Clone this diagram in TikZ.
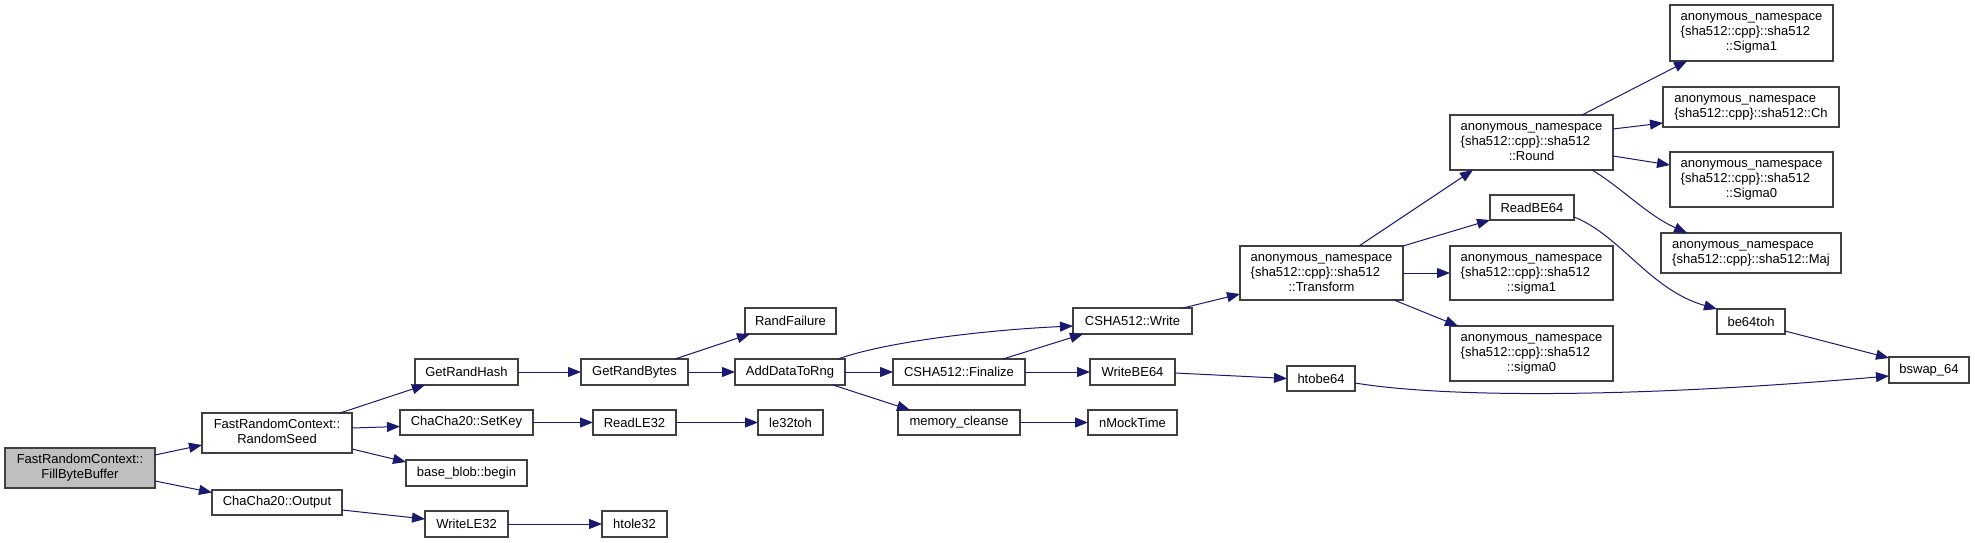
\documentclass[tikz,border=0pt]{standalone}
\usepackage{fontspec}
\setmainfont{Liberation Sans}
\usetikzlibrary{arrows.meta}
\definecolor{edgecol}{HTML}{191970}
\definecolor{boxcol}{HTML}{404040}
\definecolor{rootfill}{HTML}{BFBFBF}
\newcommand\twol[2]{\begin{tabular}{@{}l@{}}#1\\\multicolumn{1}{@{}c@{}}{#2}\end{tabular}}
\newcommand\threel[3]{\begin{tabular}{@{}l@{}}#1\\#2\\\multicolumn{1}{@{}c@{}}{#3}\end{tabular}}
\tikzset{
  box/.style={draw=boxcol, line width=1.1pt, fill=white, inner sep=0pt, outer sep=0pt,
    font=\fontsize{13}{15}\selectfont, align=center},
  call/.style={draw=edgecol, line width=1pt, -{Triangle[length=13pt,width=10pt]}},
}
\begin{document}
\begin{tikzpicture}[x=1pt,y=-1pt]
\fill[white] (0,0) rectangle (1975,543);
\useasboundingbox (0,0) rectangle (1975,543);
% nodes
\node[box, fill=rootfill, minimum width=150pt, minimum height=40pt] (fbb) at (80,468) {\twol{FastRandomContext::}{FillByteBuffer}};
\node[box, minimum width=150pt, minimum height=40pt] (rs) at (277,433) {\twol{FastRandomContext::}{RandomSeed}};
\node[box, minimum width=130pt, minimum height=25pt] (out) at (277,502.5) {ChaCha20::Output};
\node[box, minimum width=103pt, minimum height=26pt] (grh) at (466.5,372) {GetRandHash};
\node[box, minimum width=133pt, minimum height=25pt] (sk) at (466.5,422.5) {ChaCha20::SetKey};
\node[box, minimum width=121pt, minimum height=26pt] (bbb) at (466.5,473) {base\_blob::begin};
\node[box, minimum width=83pt, minimum height=26pt] (wle) at (466.5,524) {WriteLE32};
\node[box, minimum width=107pt, minimum height=26pt] (grb) at (634.5,372) {GetRandBytes};
\node[box, minimum width=83pt, minimum height=25pt] (rle) at (634.5,422.5) {ReadLE32};
\node[box, minimum width=65pt, minimum height=26pt] (hle) at (634.5,524) {htole32};
\node[box, minimum width=91pt, minimum height=26pt] (rf) at (790.5,321) {RandFailure};
\node[box, minimum width=110pt, minimum height=26pt] (adr) at (790,372) {AddDataToRng};
\node[box, minimum width=65pt, minimum height=25pt] (l32) at (790.5,422.5) {le32toh};
\node[box, minimum width=119pt, minimum height=26pt] (wr) at (1132.5,321) {CSHA512::Write};
\node[box, minimum width=132pt, minimum height=26pt] (fin) at (959,372) {CSHA512::Finalize};
\node[box, minimum width=122pt, minimum height=25pt] (mc) at (959,422.5) {memory\_cleanse};
\node[box, minimum width=85pt, minimum height=26pt] (wbe) at (1132.5,372) {WriteBE64};
\node[box, minimum width=89pt, minimum height=25pt] (nmt) at (1132.5,422.5) {nMockTime};
\node[box, minimum width=163pt, minimum height=54pt] (tr) at (1321.5,273) {\threel{anonymous\_namespace}{\{sha512::cpp\}::sha512}{::Transform}};
\node[box, minimum width=68pt, minimum height=25pt] (hbe) at (1321,378.5) {htobe64};
\node[box, minimum width=163pt, minimum height=55pt] (rd) at (1531.5,142.5) {\threel{anonymous\_namespace}{\{sha512::cpp\}::sha512}{::Round}};
\node[box, minimum width=84pt, minimum height=25pt] (rbe) at (1532,207.5) {ReadBE64};
\node[box, minimum width=163pt, minimum height=54pt] (sla) at (1531.5,273) {\threel{anonymous\_namespace}{\{sha512::cpp\}::sha512}{::sigma1}};
\node[box, minimum width=163pt, minimum height=55pt] (slb) at (1531.5,353.5) {\threel{anonymous\_namespace}{\{sha512::cpp\}::sha512}{::sigma0}};
\node[box, minimum width=163pt, minimum height=56pt] (bsa) at (1751.5,33) {\threel{anonymous\_namespace}{\{sha512::cpp\}::sha512}{::Sigma1}};
\node[box, minimum width=176pt, minimum height=40pt] (ch) at (1751,107) {\twol{anonymous\_namespace}{\{sha512::cpp\}::sha512::Ch}};
\node[box, minimum width=163pt, minimum height=55pt] (bsb) at (1751.5,179.5) {\threel{anonymous\_namespace}{\{sha512::cpp\}::sha512}{::Sigma0}};
\node[box, minimum width=180pt, minimum height=40pt] (maj) at (1751,253) {\twol{anonymous\_namespace}{\{sha512::cpp\}::sha512::Maj}};
\node[box, minimum width=68pt, minimum height=25pt] (b64) at (1751,321.5) {be64toh};
\node[box, minimum width=80pt, minimum height=26pt] (bsw) at (1929,370) {bswap\_64};
% edges
\draw[call] ([yshift=13pt]fbb.east) -- ([yshift=-12pt]rs.west);
\draw[call] ([yshift=-13pt]fbb.east) -- ([yshift=10pt]out.west);
\draw[call] ([xshift=-12pt]rs.north east) -- ([xshift=10pt]grh.south west);
\draw[call] ([yshift=5pt]rs.east) -- ([yshift=-4pt]sk.west);
\draw[call] ([yshift=-16pt]rs.east) -- ([yshift=11pt]bbb.west);
\draw[call] ([yshift=-7.5pt]out.east) -- ([yshift=5pt]wle.west);
\draw[call] (wle.east) -- (hle.west);
\draw[call] (grh.east) -- (grb.west);
\draw[call] ([xshift=-13pt]grb.north east) -- ([xshift=5pt]rf.south west);
\draw[call] (grb.east) -- (adr.west);
\draw[call] (sk.east) -- (rle.west);
\draw[call] (rle.east) -- (l32.west);
\draw[call] ([xshift=-7pt]adr.north east) .. controls (885,342) and (985,330) .. ([yshift=-5pt]wr.west);
\draw[call] (adr.east) -- (fin.west);
\draw[call] ([xshift=-12pt]adr.south east) -- ([xshift=12pt]mc.north west);
\draw[call] ([xshift=-22pt]fin.north east) -- ([xshift=10pt]wr.south west);
\draw[call] (fin.east) -- (wbe.west);
\draw[call] (mc.east) -- (nmt.west);
\draw[call] ([xshift=-9pt]wr.north east) -- ([yshift=-21pt]tr.west);
\draw[call] ([yshift=-1pt]wbe.east) -- (hbe.west);
\draw[call] ([yshift=-4.5pt]hbe.east) .. controls (1440,397) and (1620,399) .. ([yshift=-6pt]bsw.west);
\draw[call] ([xshift=37.5pt]tr.north) -- ([xshift=23pt]rd.south west);
\draw[call] (tr.north east) -- (rbe.south west);
\draw[call] (tr.east) -- (sla.west);
\draw[call] ([xshift=-9pt]tr.south east) -- ([xshift=8pt]slb.north west);
\draw[call] ([xshift=-31pt]rd.north east) -- ([xshift=17pt]bsa.south west);
\draw[call] ([yshift=13.5pt]rd.east) -- ([yshift=-16pt]ch.west);
\draw[call] ([yshift=-13.5pt]rd.east) -- ([yshift=14.5pt]bsb.west);
\draw[call] ([xshift=-21pt]rd.south east) .. controls (1622,188) and (1647,215) .. ([xshift=26pt]maj.north west);
\draw[call] ([yshift=-9.5pt]rbe.east) .. controls (1620,235) and (1650,290) .. ([yshift=12.5pt]b64.west);
\draw[call] ([yshift=-9.5pt]b64.east) -- ([yshift=12pt]bsw.west);
\end{tikzpicture}
\end{document}
